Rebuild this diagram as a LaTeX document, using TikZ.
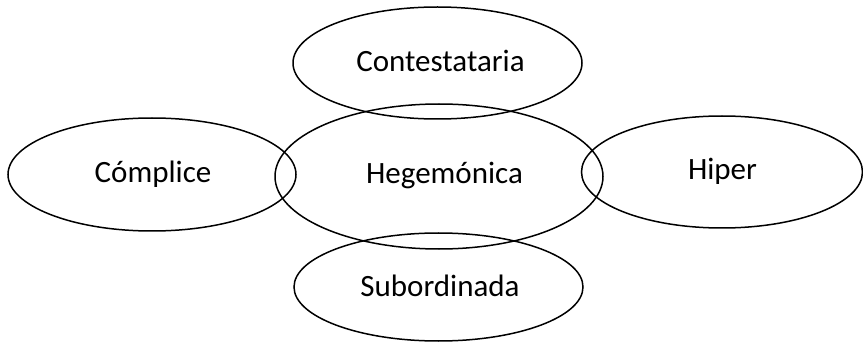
\documentclass[tikz,border=0pt]{standalone}
\usepackage{fontspec}
\setmainfont{Carlito}
\usetikzlibrary{shapes.geometric}
\begin{document}
\begin{tikzpicture}[x=1pt,y=-1pt,
  oval/.style={draw=black,line width=1.5pt,ellipse,inner sep=0pt},
  lbl/.style={anchor=base,inner sep=0pt,font=\fontsize{31}{37}\selectfont}]
\useasboundingbox (0,0) rectangle (863,342);
\node[oval,minimum width=289pt,minimum height=112pt] (con) at (437.5,63) {};
\node[oval,minimum width=328pt,minimum height=145pt] (heg) at (439,176.5) {};
\node[oval,minimum width=288pt,minimum height=113pt] (com) at (152,174.5) {};
\node[oval,minimum width=281pt,minimum height=112pt] (hip) at (722,172) {};
\node[oval,minimum width=289pt,minimum height=108pt] (sub) at (438.5,287) {};
\node[lbl] (tcon) at (440.5,71.7) {Contestataria};
\node[lbl] (theg) at (444.5,184) {Hegemónica};
\node[lbl] (tcom) at (153,183) {Cómplice};
\node[lbl] (thip) at (722.5,180) {Hiper};
\node[lbl] (tsub) at (440,296) {Subordinada};
\end{tikzpicture}
\end{document}
